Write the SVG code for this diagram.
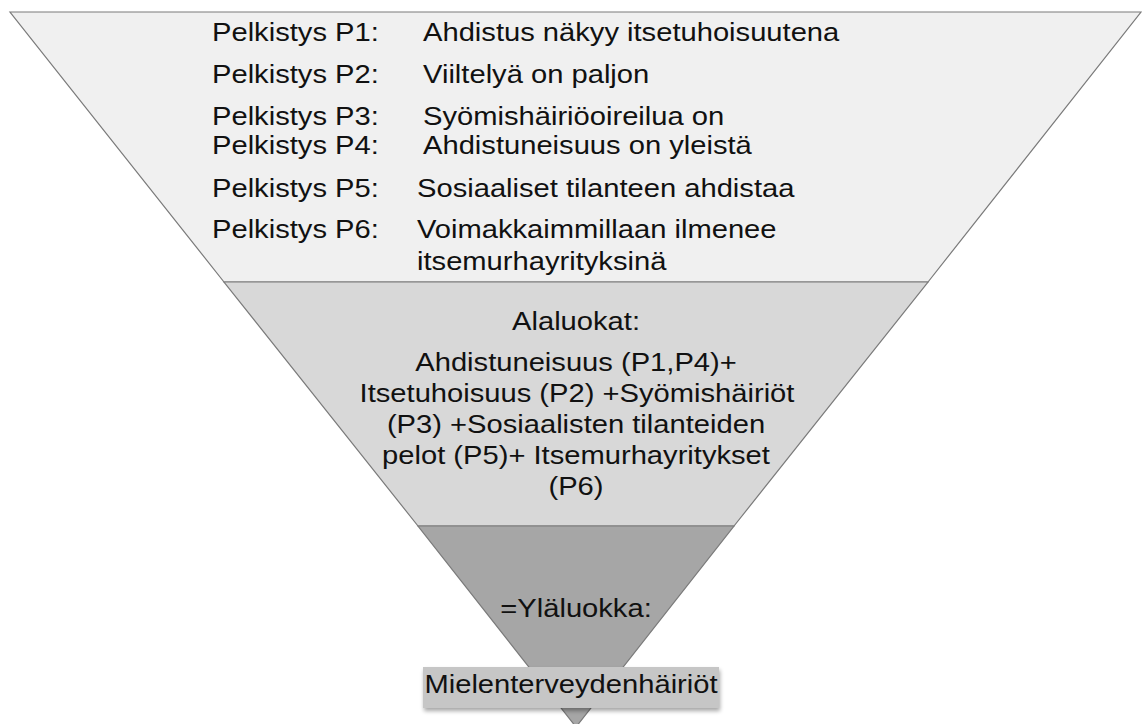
<svg xmlns="http://www.w3.org/2000/svg" width="1142" height="724" viewBox="0 0 1142 724">
  <defs>
    <style>
      .t { font-family: "Liberation Sans", Arial, sans-serif; font-size: 26.5px; fill: #111111; }
      .m { text-anchor: middle; }
      .band { stroke: #7a7a7a; stroke-width: 1.2; stroke-linejoin: miter; }
    </style>
    <filter id="sh" x="-10%" y="-30%" width="120%" height="170%">
      <feGaussianBlur in="SourceAlpha" stdDeviation="2"/>
      <feOffset dx="1" dy="3" result="b"/>
      <feComponentTransfer><feFuncA type="linear" slope="0.35"/></feComponentTransfer>
      <feMerge><feMergeNode/><feMergeNode in="SourceGraphic"/></feMerge>
    </filter>
  </defs>
  <rect width="1142" height="724" fill="#ffffff"/>

  <g id="band-pelkistykset">
    <polygon class="band" points="10,12 1141,12 928,282 224,282" fill="#f0f0f0"/>
    <text class="t" transform="translate(212,41) scale(1.1,1)">Pelkistys P1:</text>
    <text class="t" transform="translate(423,41) scale(1.1,1)">Ahdistus näkyy itsetuhoisuutena</text>
    <text class="t" transform="translate(212,83) scale(1.1,1)">Pelkistys P2:</text>
    <text class="t" transform="translate(423,83) scale(1.1,1)">Viiltelyä on paljon</text>
    <text class="t" transform="translate(212,125) scale(1.1,1)">Pelkistys P3:</text>
    <text class="t" transform="translate(423,125) scale(1.1,1)">Syömishäiriöoireilua on</text>
    <text class="t" transform="translate(212,154) scale(1.1,1)">Pelkistys P4:</text>
    <text class="t" transform="translate(423,154) scale(1.1,1)">Ahdistuneisuus on yleistä</text>
    <text class="t" transform="translate(212,197) scale(1.1,1)">Pelkistys P5:</text>
    <text class="t" transform="translate(417,197) scale(1.1,1)">Sosiaaliset tilanteen ahdistaa</text>
    <text class="t" transform="translate(212,238) scale(1.1,1)">Pelkistys P6:</text>
    <text class="t" transform="translate(417,238) scale(1.1,1)">Voimakkaimmillaan ilmenee</text>
    <text class="t" transform="translate(417,270) scale(1.1,1)">itsemurhayrityksinä</text>
  </g>

  <g id="band-alaluokat">
    <polygon class="band" points="224,282 928,282 734,526 418,526" fill="#d8d8d8"/>
    <text class="t m" transform="translate(576,330) scale(1.1,1)">Alaluokat:</text>
    <text class="t m" transform="translate(576,371) scale(1.1,1)">Ahdistuneisuus (P1,P4)+</text>
    <text class="t m" transform="translate(577,402) scale(1.1,1)">Itsetuhoisuus (P2) +Syömishäiriöt</text>
    <text class="t m" transform="translate(576,433) scale(1.1,1)">(P3) +Sosiaalisten tilanteiden</text>
    <text class="t m" transform="translate(576,464) scale(1.1,1)">pelot (P5)+ Itsemurhayritykset</text>
    <text class="t m" transform="translate(576,495) scale(1.1,1)">(P6)</text>
  </g>

  <g id="band-ylaluokka">
    <polygon class="band" points="418,526 734,526 576,727" fill="#a6a6a6"/>
    <text class="t m" transform="translate(576,617) scale(1.1,1)">=Yläluokka:</text>
  </g>

  <g id="box-mielenterveydenhairiot">
    <rect x="423" y="667" width="296" height="41" fill="#c6c6c6" filter="url(#sh)"/>
    <text class="t m" transform="translate(571,693) scale(1.1,1)">Mielenterveydenhäiriöt</text>
  </g>
</svg>
